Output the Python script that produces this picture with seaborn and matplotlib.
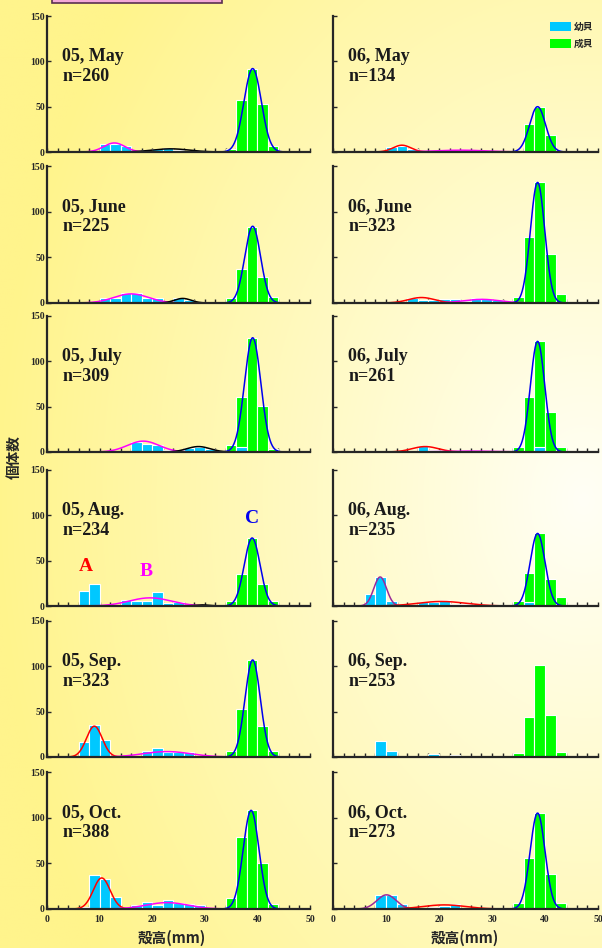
import numpy as np
import pandas as pd
import matplotlib
matplotlib.use("Agg")
import matplotlib.pyplot as plt
from matplotlib.patches import Patch, Rectangle
from matplotlib.ticker import MultipleLocator
import seaborn as sns

sns.set_style("ticks")
plt.rcParams['font.family'] = ['Liberation Serif', 'Noto Sans CJK JP']
plt.rcParams['font.weight'] = 'bold'

panel_titles = ["05, May", "06, May", "05, June", "06, June", "05, July", "06, July",
                "05, Aug.", "06, Aug.", "05, Sep.", "06, Sep.", "05, Oct.", "06, Oct."]
panel_n = [260, 134, 225, 323, 309, 261, 234, 235, 323, 253, 388, 273]

# juvenile (幼貝) counts per 2 mm bin, keyed by the bin's left edge
juv_05may = {10: 9, 12: 9, 14: 7, 18: 2, 20: 3, 22: 4, 24: 2, 26: 1, 28: 1}
juv_06may = {10: 6, 12: 7, 14: 3, 20: 2, 22: 2, 24: 2}
juv_05jun = {10: 6, 12: 6, 14: 11, 16: 11, 18: 6, 20: 6, 22: 1, 24: 5, 26: 3, 28: 1}
juv_06jun = {14: 6, 16: 3, 18: 3, 20: 4, 22: 4, 24: 2, 26: 5, 28: 4, 30: 3, 32: 2}
juv_05jul = {16: 11, 18: 9, 20: 8, 22: 2, 24: 2, 26: 4, 28: 5, 30: 3, 36: 5}
juv_06jul = {16: 7, 18: 2, 22: 1, 24: 1, 26: 1, 28: 1, 38: 5}
juv_05aug = {6: 17, 8: 24, 14: 7, 16: 5, 18: 5, 20: 15, 22: 3, 24: 4}
juv_06aug = {6: 13, 8: 32, 10: 5, 16: 4, 18: 4, 20: 7, 22: 2, 24: 2, 26: 1, 28: 1, 30: 1, 36: 4}
juv_05sep = {6: 17, 8: 35, 10: 19, 16: 1, 18: 7, 20: 10, 22: 6, 24: 6, 26: 5}
juv_06sep = {6: 1, 8: 18, 10: 7, 16: 1, 18: 3, 20: 1, 22: 2}
juv_05oct = {6: 2, 8: 37, 10: 33, 12: 13, 16: 4, 18: 8, 20: 4, 22: 10, 24: 7, 26: 5, 28: 4}
juv_06oct = {8: 15, 10: 15, 12: 5, 18: 2, 20: 3, 22: 5}

# adult (成貝) counts per bin
adu_05may = {34: 3, 36: 57, 38: 92, 40: 53, 42: 7}
adu_06may = {36: 31, 38: 50, 40: 19}
adu_05jun = {34: 5, 36: 37, 38: 83, 40: 28, 42: 7}
adu_06jun = {34: 7, 36: 72, 38: 132, 40: 54, 42: 10}
adu_05jul = {34: 8, 36: 61, 38: 126, 40: 51, 42: 3}
adu_06jul = {34: 5, 36: 61, 38: 122, 40: 44, 42: 6}
adu_05aug = {34: 5, 36: 35, 38: 75, 40: 24, 42: 6}
adu_06aug = {34: 5, 36: 36, 38: 81, 40: 30, 42: 10}
adu_05sep = {34: 7, 36: 53, 38: 107, 40: 34, 42: 7}
adu_06sep = {34: 4, 36: 44, 38: 101, 40: 46, 42: 6}
adu_05oct = {34: 12, 36: 79, 38: 108, 40: 50, 42: 5}
adu_06oct = {34: 7, 36: 56, 38: 105, 40: 38, 42: 7}

# fitted normal components: (mean, sd, peak, colour)
fit_05may = [(12.8, 2.0, 10, 'magenta'), (23.5, 3.5, 3.5, 'black'), (39.1, 1.65, 92, 'blue')]
fit_06may = [(13.0, 1.7, 7.5, 'red'), (24.0, 5.0, 2, 'magenta'), (38.6, 1.5, 50, 'blue')]
fit_05jun = [(16.0, 3.3, 10, 'magenta'), (25.8, 1.6, 5, 'black'), (39.1, 1.5, 84, 'blue')]
fit_06jun = [(16.7, 2.5, 6, 'red'), (28.0, 3.5, 4, 'magenta'), (38.6, 1.35, 132, 'blue')]
fit_05jul = [(18.3, 3.0, 12, 'magenta'), (28.8, 2.2, 6, 'black'), (39.1, 1.55, 126, 'blue')]
fit_06jul = [(17.4, 2.5, 6, 'red'), (26.0, 5.0, 1, 'magenta'), (38.6, 1.35, 122, 'blue')]
fit_05aug = [(19.6, 4.0, 9, 'magenta'), (29.5, 1.5, 1.2, 'black'), (39.0, 1.5, 75, 'blue')]
fit_06aug = [(8.9, 1.2, 32, 'purple'), (20.5, 4.5, 5, 'red'), (38.6, 1.4, 80, 'blue')]
fit_05sep = [(9.0, 1.5, 34, 'red'), (22.8, 4.5, 6, 'magenta'), (39.1, 1.45, 107, 'blue')]
fit_06sep = []
fit_05oct = [(10.4, 1.6, 34, 'red'), (22.8, 4.0, 7, 'magenta'), (38.8, 1.5, 108, 'blue')]
fit_06oct = [(10.1, 1.8, 15.5, 'purple'), (21.0, 4.0, 4.5, 'red'), (38.6, 1.4, 105, 'blue')]

juv_all = [juv_05may, juv_06may, juv_05jun, juv_06jun, juv_05jul, juv_06jul,
           juv_05aug, juv_06aug, juv_05sep, juv_06sep, juv_05oct, juv_06oct]
adu_all = [adu_05may, adu_06may, adu_05jun, adu_06jun, adu_05jul, adu_06jul,
           adu_05aug, adu_06aug, adu_05sep, adu_06sep, adu_05oct, adu_06oct]
fit_all = [fit_05may, fit_06may, fit_05jun, fit_06jun, fit_05jul, fit_06jul,
           fit_05aug, fit_06aug, fit_05sep, fit_06sep, fit_05oct, fit_06oct]

JUV_COLOR = '#00C8FF'
ADU_COLOR = '#00FF00'
CURVE_COLORS = {'magenta': '#FF00FF', 'black': '#000000', 'blue': '#0000F0',
                'red': '#FF0000', 'purple': '#9A2A9A'}

W, H = 602, 948
fig = plt.figure(figsize=(W / 100, H / 100), dpi=100)

# yellow gradient background
ax_bg = fig.add_axes([0, 0, 1, 1], zorder=-10)
gx, gy = np.meshgrid(np.linspace(0, W, 300), np.linspace(0, H, 470))
d = np.sqrt(((gx - 585) / 590) ** 2 + ((gy - 500) / 800) ** 2)
t = np.clip(d, 0, 1)[..., None]
light = np.array([255, 255, 246]) / 255
yellow = np.array([255, 244, 140]) / 255
ax_bg.imshow(light * (1 - t) + yellow * t, aspect='auto', extent=[0, 1, 0, 1])
ax_bg.axis('off')

# cut-off title box at the top
fig.patches.append(Rectangle((52 / W, 1 - 3 / H), 170 / W, 10 / H, transform=fig.transFigure,
                             facecolor='#F4A8D8', edgecolor='#5A3050', linewidth=1.2))

col_left = [47, 333]
col_width = [263, 265]
row_top = [16, 166, 316, 470, 621, 772]
row_bottom = [152, 303, 452, 606, 757, 909]


def to_frame(d):
    return pd.DataFrame({'x': [k + 1 for k in d], 'n': list(d.values())})


axes = []
for i in range(12):
    r, c = divmod(i, 2)
    ax = fig.add_axes([col_left[c] / W, 1 - row_bottom[r] / H,
                       col_width[c] / W, (row_bottom[r] - row_top[r]) / H])
    ax.set_facecolor('none')
    axes.append(ax)

    adu = to_frame(adu_all[i])
    juv = to_frame(juv_all[i])
    sns.histplot(data=adu, x='x', weights='n', binwidth=2, binrange=(0, 50), ax=ax,
                 color=ADU_COLOR, alpha=1, edgecolor='white', linewidth=0.8)
    sns.histplot(data=juv, x='x', weights='n', binwidth=2, binrange=(0, 50), ax=ax,
                 color=JUV_COLOR, alpha=1, edgecolor='white', linewidth=0.8)

    for mu, sd, peak, cname in fit_all[i]:
        xs = np.linspace(max(mu - 4.5 * sd, 0), mu + 4.5 * sd, 200)
        ys = peak * np.exp(-0.5 * ((xs - mu) / sd) ** 2)
        sns.lineplot(x=xs, y=ys, ax=ax, color=CURVE_COLORS[cname], linewidth=1.1)

    ax.set_xlim(0, 50)
    ax.set_ylim(0, 150)
    ax.set_xlabel('')
    ax.set_ylabel('')
    sns.despine(ax=ax)
    for s in ['left', 'bottom']:
        ax.spines[s].set_linewidth(1.6)
    ax.set_xticks(range(0, 51, 10))
    ax.xaxis.set_minor_locator(MultipleLocator(2))
    ax.set_yticks([0, 50, 100, 150])
    ax.tick_params(axis='both', which='major', direction='in', length=3, width=1,
                   labelsize=7, pad=1.5)
    ax.tick_params(axis='x', which='minor', direction='in', length=3, width=1)
    if c == 1:
        ax.tick_params(axis='y', labelleft=False)
    else:
        for lab in ax.get_yticklabels():
            lab.set_fontweight('bold')
    if r < 5:
        ax.tick_params(axis='x', labelbottom=False)
    else:
        ax.tick_params(axis='x', labelsize=7, pad=4)
        for lab in ax.get_xticklabels():
            lab.set_fontweight('bold')

    ax.text(0.058, 0.765, f"{panel_titles[i]}\nn={panel_n[i]}", transform=ax.transAxes,
            ha='left', va='top', fontsize=13, fontweight='bold', color='#1a1a1a',
            linespacing=1.25)

# A, B, C labels in 05 Aug.
ax_aug = axes[6]
ax_aug.text(7.4, 44, 'A', color='#FF0000', fontsize=14, fontweight='bold', ha='center', va='center')
ax_aug.text(18.8, 38, 'B', color='#FF00FF', fontsize=14, fontweight='bold', ha='center', va='center')
ax_aug.text(39.0, 97, 'C', color='#0000F0', fontsize=14, fontweight='bold', ha='center', va='center')

# legend in 06 May
handles = [Patch(facecolor=JUV_COLOR, edgecolor='none'), Patch(facecolor=ADU_COLOR, edgecolor='none')]
axes[1].legend(handles, ['幼貝', '成貝'], loc='upper right', bbox_to_anchor=(1.015, 1.02),
               frameon=False, handlelength=2.1, handleheight=1.1, handletextpad=0.3,
               labelspacing=0.7, prop={'family': ['Noto Sans CJK JP'], 'weight': 'bold', 'size': 7})

# axis titles
for cx in [172, 465]:
    fig.text(cx / W, 1 - 938 / H, '殻高(mm)', ha='center', va='center', fontsize=10.5,
             fontweight='bold', family=['Noto Sans CJK JP'])
fig.text(14 / W, 1 - 457 / H, '個体数', rotation=90, ha='center', va='center', fontsize=10.5,
         fontweight='bold', family=['Noto Sans CJK JP'])

fig.savefig('out.png', dpi=100)
